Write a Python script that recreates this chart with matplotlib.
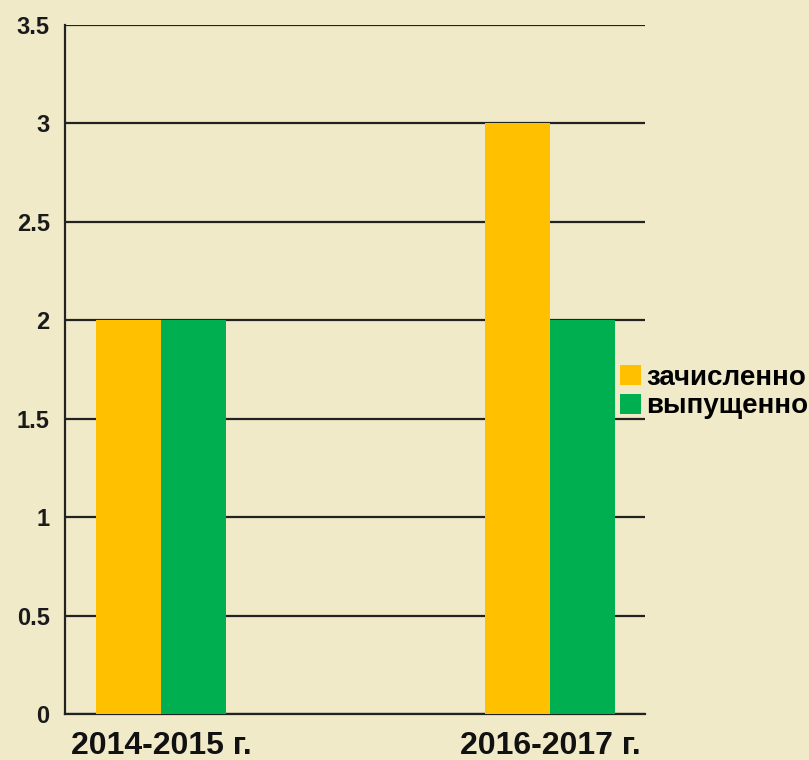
import numpy as np
import matplotlib.pyplot as plt

# ---------------------------- data ----------------------------
years = ['2014-2015 г.', '2016-2017 г.']
enrolled = [2, 3]      # зачисленно
graduated = [2, 2]     # выпущенно
series_names = ['зачисленно', 'выпущенно']
y_ticks = [0, 0.5, 1, 1.5, 2, 2.5, 3, 3.5]
y_tick_labels = ['0', '0.5', '1', '1.5', '2', '2.5', '3', '3.5']

plt.rcParams['font.family'] = ['Liberation Sans', 'DejaVu Sans']

fig = plt.figure(figsize=(8.09, 7.6), dpi=100, facecolor='#f0eac8')
ax = fig.add_axes([65/809, 1 - 714/760, 580/809, 689/760])
ax.set_facecolor('none')

x = np.arange(len(years))
w = 0.167
b1 = ax.bar(x - w/2, enrolled, w, color='#FFC000', label=series_names[0], zorder=3)
b2 = ax.bar(x + w/2, graduated, w, color='#00B050', label=series_names[1], zorder=3)

ax.set_xlim(-0.247, 1.244)
ax.set_ylim(0, 3.5)
ax.set_yticks(y_ticks)
ax.set_yticklabels(y_tick_labels, fontsize=17, fontweight='bold', color='#1a1a1a')
ax.set_xticks(x)
ax.set_xticklabels(years, fontsize=23, fontweight='bold', color='#111111')
ax.tick_params(axis='y', length=0, pad=11)
ax.tick_params(axis='x', length=0, pad=12)

# horizontal grid lines
ax.yaxis.grid(True, color='#222222', linewidth=1.6, zorder=1)
ax.set_axisbelow(True)
for s in ['top', 'right']:
    ax.spines[s].set_visible(False)
ax.spines['left'].set_color('#222222')
ax.spines['left'].set_linewidth(1.6)
ax.spines['bottom'].set_color('#222222')
ax.spines['bottom'].set_linewidth(1.6)

fig.legend(handles=[b1, b2], labels=series_names, loc='center left',
           bbox_to_anchor=(620/809, 1 - 392/760), frameon=False,
           prop={'size': 20, 'weight': 'bold'}, handlelength=0.75,
           handleheight=0.75, handletextpad=0.2, labelspacing=0.1,
           borderpad=0, borderaxespad=0)

fig.savefig('out.png', dpi=100, facecolor=fig.get_facecolor())
